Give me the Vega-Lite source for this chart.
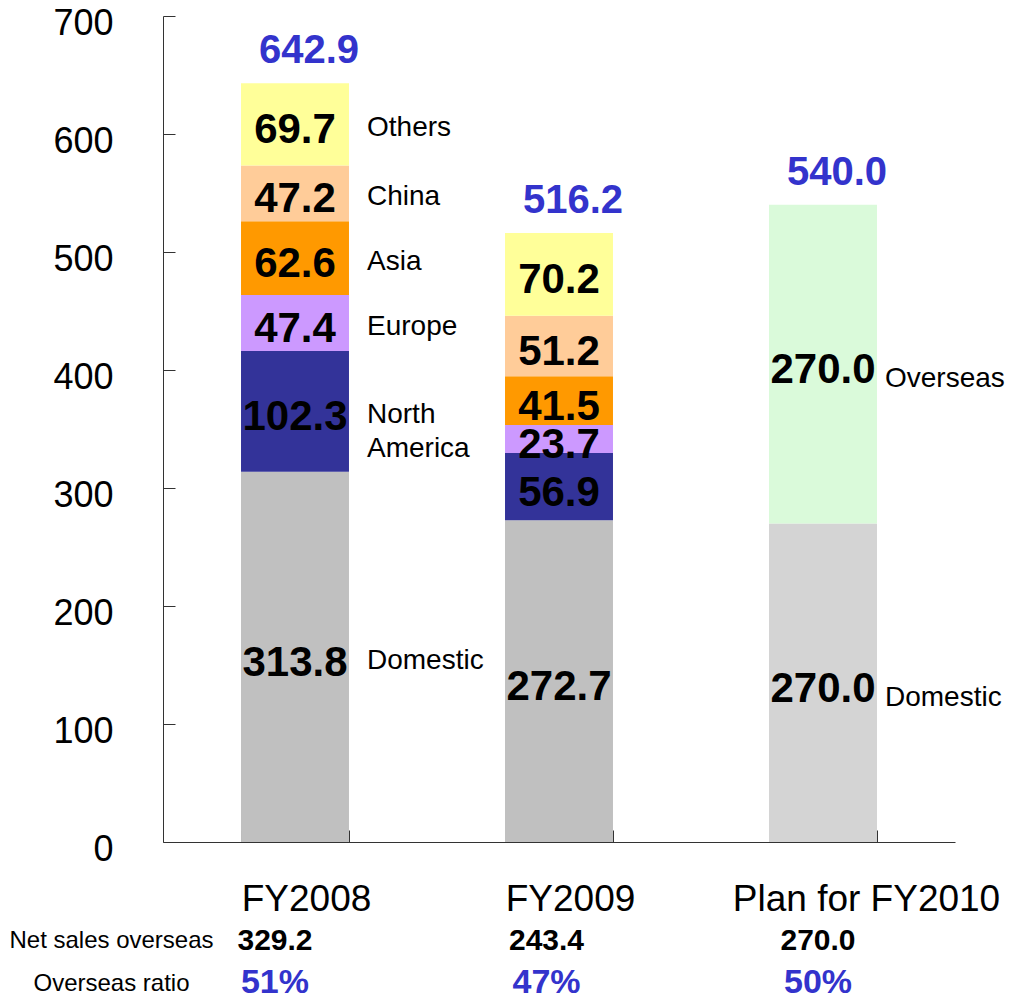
{
  "$schema": "https://vega.github.io/schema/vega-lite/v6.json",
  "padding": {"left": 8, "top": 5, "right": 0, "bottom": 0},
  "background": "white",
  "config": {"font": "Liberation Sans", "view": {"stroke": null}},
  "spacing": 8,
  "resolve": {"scale": {"x": "independent", "y": "independent"}},
  "datasets": {
    "segments": [
      {"year": "FY2008", "segment": "Domestic", "order": 1, "value": 313.8, "name": "Domestic"},
      {"year": "FY2008", "segment": "North America", "order": 2, "value": 102.3, "name": "North\nAmerica"},
      {"year": "FY2008", "segment": "Europe", "order": 3, "value": 47.4, "name": "Europe"},
      {"year": "FY2008", "segment": "Asia", "order": 4, "value": 62.6, "name": "Asia"},
      {"year": "FY2008", "segment": "China", "order": 5, "value": 47.2, "name": "China"},
      {"year": "FY2008", "segment": "Others", "order": 6, "value": 69.7, "name": "Others"},
      {"year": "FY2009", "segment": "Domestic", "order": 1, "value": 272.7, "name": ""},
      {"year": "FY2009", "segment": "North America", "order": 2, "value": 56.9, "name": ""},
      {"year": "FY2009", "segment": "Europe", "order": 3, "value": 23.7, "name": ""},
      {"year": "FY2009", "segment": "Asia", "order": 4, "value": 41.5, "name": ""},
      {"year": "FY2009", "segment": "China", "order": 5, "value": 51.2, "name": ""},
      {"year": "FY2009", "segment": "Others", "order": 6, "value": 70.2, "name": ""},
      {"year": "Plan for FY2010", "segment": "Domestic (plan)", "order": 1, "value": 270.0, "name": "Domestic"},
      {"year": "Plan for FY2010", "segment": "Overseas (plan)", "order": 2, "value": 270.0, "name": "Overseas"}
    ],
    "summary": [
      {"year": "FY2008", "total": 642.9, "overseas": 329.2, "ratio": 0.51},
      {"year": "FY2009", "total": 516.2, "overseas": 243.4, "ratio": 0.47},
      {"year": "Plan for FY2010", "total": 540.0, "overseas": 270.0, "ratio": 0.50}
    ]
  },
  "vconcat": [
    {
      "width": 792,
      "height": 826,
      "layer": [
        {
          "data": {"name": "segments"},
          "transform": [
            {"stack": "value", "groupby": ["year"], "sort": [{"field": "order"}], "as": ["y0", "y1"]}
          ],
          "mark": {"type": "bar"},
          "encoding": {
            "x": {
              "field": "year", "type": "nominal",
              "scale": {"type": "band", "paddingInner": 0.591, "paddingOuter": 0.2955},
              "axis": {
                "title": null, "labelAngle": 0, "tickBand": "extent", "tickSize": -12,
                "labelFontSize": 37, "labelColor": "black", "labelPadding": 51,
                "labelOffset": {"condition": {"test": "datum.value == 'Plan for FY2010'", "value": 43}, "value": 11},
                "domainColor": "#333333", "tickColor": "#333333", "labelLimit": 400
              }
            },
            "y": {
              "field": "y0", "type": "quantitative",
              "scale": {"domain": [0, 700], "nice": false},
              "axis": {
                "title": null, "grid": false, "values": [0, 100, 200, 300, 400, 500, 600, 700],
                "labelFontSize": 36, "labelColor": "black", "tickSize": -12, "labelPadding": 62,
                "labelOffset": 7,
                "domainColor": "#333333", "tickColor": "#333333"
              }
            },
            "y2": {"field": "y1"},
            "color": {
              "field": "segment", "type": "nominal",
              "scale": {
                "domain": ["Domestic", "North America", "Europe", "Asia", "China", "Others", "Domestic (plan)", "Overseas (plan)"],
                "range": ["#c0c0c0", "#333399", "#cc99ff", "#ff9900", "#ffcc99", "#ffff99", "#d4d4d4", "#dafada"]
              },
              "legend": null
            }
          }
        },
        {
          "data": {"name": "segments"},
          "transform": [
            {"stack": "value", "groupby": ["year"], "sort": [{"field": "order"}], "as": ["y0", "y1"]},
            {"calculate": "(datum.y0 + datum.y1) / 2", "as": "mid"}
          ],
          "mark": {"type": "text", "fontSize": 42, "fontWeight": "bold", "color": "black", "dy": 6},
          "encoding": {
            "x": {"field": "year", "type": "nominal"},
            "y": {"field": "mid", "type": "quantitative"},
            "text": {"field": "value", "type": "quantitative", "format": ".1f"}
          }
        },
        {
          "data": {"name": "segments"},
          "transform": [
            {"stack": "value", "groupby": ["year"], "sort": [{"field": "order"}], "as": ["y0", "y1"]},
            {"calculate": "(datum.y0 + datum.y1) / 2", "as": "mid"},
            {"filter": "datum.year == 'FY2008'"}
          ],
          "mark": {"type": "text", "fontSize": 28, "color": "black", "align": "left", "dx": 72, "dy": 4, "lineBreak": "\n", "lineHeight": 34},
          "encoding": {
            "x": {"field": "year", "type": "nominal"},
            "y": {"field": "mid", "type": "quantitative"},
            "text": {"field": "name", "type": "nominal"}
          }
        },
        {
          "data": {"name": "segments"},
          "transform": [
            {"stack": "value", "groupby": ["year"], "sort": [{"field": "order"}], "as": ["y0", "y1"]},
            {"calculate": "(datum.y0 + datum.y1) / 2", "as": "mid"},
            {"filter": "datum.year == 'Plan for FY2010'"}
          ],
          "mark": {"type": "text", "fontSize": 28, "color": "black", "align": "left", "dx": 62, "dy": 15},
          "encoding": {
            "x": {"field": "year", "type": "nominal"},
            "y": {"field": "mid", "type": "quantitative"},
            "text": {"field": "name", "type": "nominal"}
          }
        },
        {
          "data": {"name": "summary"},
          "mark": {"type": "text", "fontSize": 40, "fontWeight": "bold", "color": "#3333cc", "dx": 14, "dy": -32},
          "encoding": {
            "x": {"field": "year", "type": "nominal"},
            "y": {"field": "total", "type": "quantitative"},
            "text": {"field": "total", "type": "quantitative", "format": ".1f"}
          }
        }
      ]
    },
    {
      "width": 767,
      "height": 62,
      "data": {"name": "summary"},
      "encoding": {
        "x": {
          "field": "year", "type": "nominal",
          "scale": {"type": "band", "paddingInner": 0.5, "paddingOuter": 0.1625},
          "axis": null
        }
      },
      "layer": [
        {
          "mark": {"type": "text", "fontSize": 30, "fontWeight": "bold", "color": "black"},
          "encoding": {
            "y": {
              "datum": "Net sales overseas", "type": "nominal",
              "scale": {"type": "point", "domain": ["Net sales overseas", "Overseas ratio"], "padding": 0.238},
              "axis": {
                "title": null, "domain": false, "ticks": false, "tickSize": 0,
                "labelAlign": "center", "labelPadding": 52, "labelFontSize": 24,
                "labelColor": "black", "labelLimit": 400
              }
            },
            "text": {"field": "overseas", "type": "quantitative", "format": ".1f"}
          }
        },
        {
          "mark": {"type": "text", "fontSize": 34, "fontWeight": "bold", "color": "#3333cc"},
          "encoding": {
            "y": {"datum": "Overseas ratio", "type": "nominal"},
            "text": {"field": "ratio", "type": "quantitative", "format": ".0%"}
          }
        }
      ]
    }
  ]
}
